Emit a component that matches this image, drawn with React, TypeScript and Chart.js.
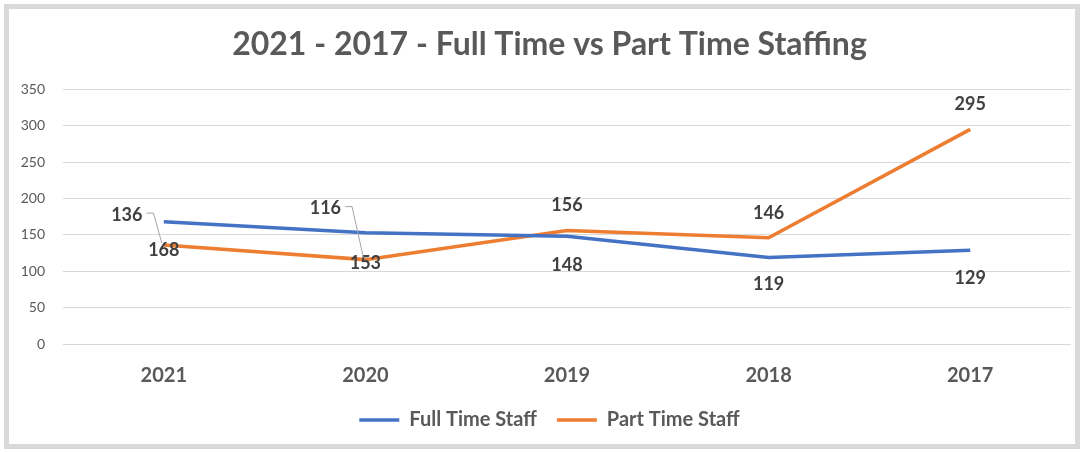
import React, { useEffect, useRef } from "react";
import { Chart, registerables } from "chart.js";

Chart.register(...registerables);

const categories = ["2021", "2020", "2019", "2018", "2017"];
const fullTimeStaff = [168, 153, 148, 119, 129];
const partTimeStaff = [136, 116, 156, 146, 295];
const yTicks = [0, 50, 100, 150, 200, 250, 300, 350];

const FONT = "Lato, 'Open Sans', sans-serif";
const BLUE = "#4472C4";
const ORANGE = "#ED7D31";

// label placement: [dx, dy, leader]
const fullLabelOffsets = [
  [0, 28, false],
  [0, 30, false],
  [0, 29, false],
  [0, 27, false],
  [0, 28, false],
];
const partLabelOffsets = [
  [-37, -30, true],
  [-40, -51, true],
  [0, -25, false],
  [0, -25, false],
  [0, -25, false],
];

const labelPlugin = {
  id: "dataLabels",
  afterDatasetsDraw(chart: any) {
    const ctx = chart.ctx;
    ctx.save();
    ctx.font = `bold 18px ${FONT}`;
    ctx.fillStyle = "#404040";
    ctx.textAlign = "center";
    ctx.textBaseline = "middle";
    chart.data.datasets.forEach((ds: any, di: number) => {
      const meta = chart.getDatasetMeta(di);
      const offs = di === 0 ? fullLabelOffsets : partLabelOffsets;
      meta.data.forEach((pt: any, i: number) => {
        const [dx, dy, leader] = offs[i] as [number, number, boolean];
        const lx = pt.x + dx;
        const ly = pt.y + dy;
        const txt = String(ds.data[i]);
        if (leader) {
          const w = ctx.measureText(txt).width;
          ctx.save();
          ctx.strokeStyle = "#a6a6a6";
          ctx.lineWidth = 1;
          ctx.beginPath();
          ctx.moveTo(lx + w / 2 + 4, ly - 2);
          ctx.lineTo(lx + w / 2 + 11, ly - 2);
          ctx.lineTo(pt.x - 2, pt.y - 2);
          ctx.stroke();
          ctx.restore();
        }
        ctx.fillText(txt, lx, ly);
      });
    });
    ctx.restore();
  },
};

export default function App() {
  const ref = useRef<HTMLCanvasElement>(null);
  useEffect(() => {
    document.body.style.margin = "0";
    const chart = new Chart(ref.current!, {
      type: "line",
      data: {
        labels: categories,
        datasets: [
          {
            label: "Full Time Staff",
            data: fullTimeStaff,
            borderColor: BLUE,
            backgroundColor: BLUE,
            borderWidth: 3.5,
            pointRadius: 0,
            tension: 0,
          },
          {
            label: "Part Time Staff",
            data: partTimeStaff,
            borderColor: ORANGE,
            backgroundColor: ORANGE,
            borderWidth: 3.5,
            pointRadius: 0,
            tension: 0,
          },
        ],
      },
      options: {
        animation: false,
        responsive: false,
        layout: { padding: { left: 20, right: 5, top: 0, bottom: 12 } },
        plugins: {
          title: {
            display: true,
            text: "2021 - 2017 - Full Time vs Part Time Staffing",
            color: "#595959",
            font: { family: FONT, size: 32, weight: "bold" },
            padding: { top: 25, bottom: 26 },
          },
          legend: {
            position: "bottom",
            labels: {
              color: "#595959",
              font: { family: FONT, size: 20, weight: "bold" },
              usePointStyle: true,
              pointStyle: "line",
              pointStyleWidth: 40,
              padding: 20,
            },
          },
          tooltip: { enabled: false },
        },
        scales: {
          x: {
            offset: true,
            grid: { display: false, drawTicks: false, offset: true },
            border: { display: false },
            afterFit: (axis: any) => {
              axis.height = 46;
            },
            ticks: {
              color: "#595959",
              font: { family: FONT, size: 20, weight: "bold" },
              padding: 20,
            },
          },
          y: {
            min: 0,
            max: 350,
            afterBuildTicks: (axis: any) => {
              axis.ticks = yTicks.map((v) => ({ value: v }));
            },
            afterFit: (axis: any) => {
              axis.width = 43;
            },
            grid: { color: "#d9d9d9", lineWidth: 1, drawTicks: false },
            border: { display: false },
            ticks: {
              color: "#595959",
              font: { family: FONT, size: 14 },
              padding: 18,
            },
          },
          yRight: {
            type: "linear",
            position: "right",
            display: true,
            grid: { display: false, drawTicks: false },
            border: { display: false },
            ticks: { display: false },
            afterFit: (axis: any) => {
              axis.width = 8;
            },
          },
        },
      },
      plugins: [labelPlugin],
    });
    return () => chart.destroy();
  }, []);
  return (
    <div style={{ position: "absolute", left: 0, top: 0, width: 1084, height: 452, background: "#fff" }}>
      <div
        style={{
          position: "absolute",
          left: 4,
          top: 4,
          width: 1076,
          height: 445,
          border: "5px solid #d9d9d9",
          boxSizing: "border-box",
        }}
      />
      <canvas ref={ref} width={1084} height={452} style={{ position: "absolute", left: 0, top: 0 }} />
    </div>
  );
}
